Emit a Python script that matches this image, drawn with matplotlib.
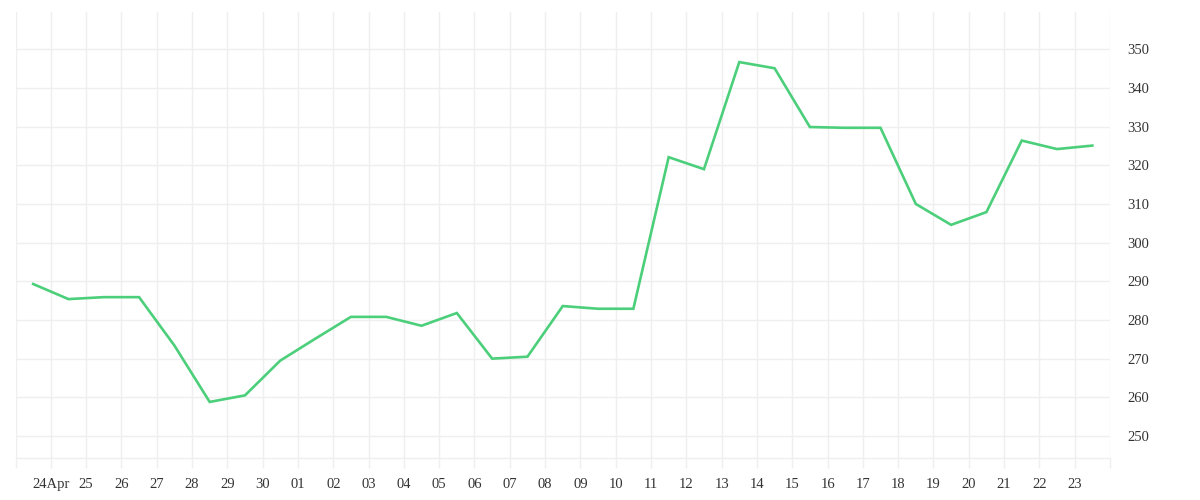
import matplotlib
matplotlib.use("Agg")
import matplotlib.pyplot as plt
import numpy as np

# Daily values (one per day, drawn mid-day)
values = [289.3, 285.4, 285.9, 285.9, 273.4, 258.8, 260.5, 269.5, 275.2, 280.8,
          280.8, 278.5, 281.8, 270.0, 270.5, 283.6, 282.9, 282.9, 322.1, 319.0,
          346.7, 345.1, 329.9, 329.7, 329.7, 310.0, 304.6, 307.9, 326.4, 324.2,
          325.1]
# Day-boundary tick labels
tick_labels = ["", "24Apr", "25", "26", "27", "28", "29", "30", "01", "02", "03",
               "04", "05", "06", "07", "08", "09", "10", "11", "12", "13", "14",
               "15", "16", "17", "18", "19", "20", "21", "22", "23", ""]
y_ticks = [250, 260, 270, 280, 290, 300, 310, 320, 330, 340, 350]

grid_c = "#efefef"
text_c = "#333333"
line_c = "#4ccf7a"

fig = plt.figure(figsize=(12, 5), dpi=100)
ax = fig.add_axes([15.5 / 1200, 1 - 458 / 500, (1110 - 15.5) / 1200, (458 - 12) / 500])

x = np.arange(len(values)) + 0.5
ax.plot(x, values, color=line_c, lw=1.9, solid_joinstyle="miter", zorder=3)

ax.set_xlim(0, len(tick_labels) - 1)
ax.set_ylim(244.3, 359.65)

ax.set_xticks(np.arange(len(tick_labels)))
ax.set_xticklabels(tick_labels, family="Liberation Serif", fontsize=10.5, color=text_c)
ax.tick_params(axis="x", length=7.2, width=1, color=grid_c, pad=7.5)

ax.yaxis.tick_right()
ax.set_yticks(y_ticks)
ax.set_yticklabels([str(v) for v in y_ticks], family="Liberation Serif", fontsize=10.5, color=text_c)
ax.tick_params(axis="y", length=0, pad=12.5)

ax.grid(True, color=grid_c, lw=1, zorder=0)
for s in ["top", "left", "right"]:
    ax.spines[s].set_visible(False)
ax.spines["bottom"].set_color(grid_c)
ax.spines["bottom"].set_linewidth(1)

fig.savefig("out.png", dpi=100, facecolor="white")
